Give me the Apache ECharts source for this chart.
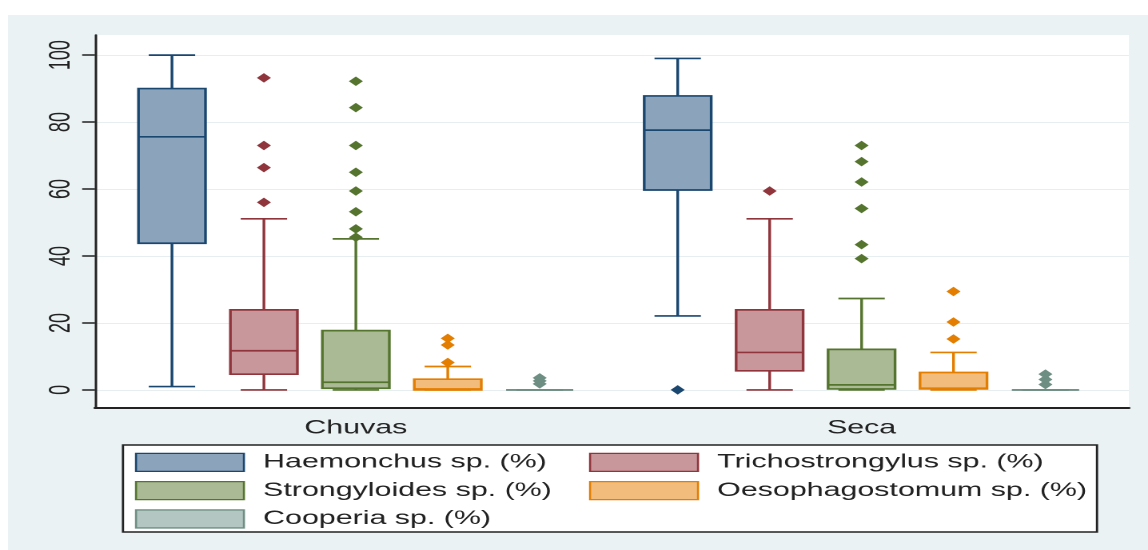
<!DOCTYPE html>
<html>
<head>
<meta charset="utf-8">
<script src="https://cdn.jsdelivr.net/npm/echarts@6/dist/echarts.min.js"></script>
<style>
  html, body { margin: 0; padding: 0; background: #fff; }
  body { width: 1148px; height: 550px; position: relative; overflow: hidden; }
  #bg { position: absolute; left: 8px; top: 15px; right: 0; bottom: 0; background: #eaf2f3; }
  /* the picture is stretched sideways, so the chart is drawn narrow and widened */
  #main { position: absolute; left: 0; top: 0; width: 718px; height: 550px; transform: scaleX(1.5989); transform-origin: 0 0; }
</style>
</head>
<body>
<div id="bg"></div>
<div id="main"></div>
<script>
var groups = ['Chuvas', 'Seca'];
var species = ['Haemonchus sp. (%)', 'Trichostrongylus sp. (%)', 'Strongyloides sp. (%)', 'Oesophagostomum sp. (%)', 'Cooperia sp. (%)'];
var yTicks = [0, 20, 40, 60, 80, 100];

// per group: [lower whisker, q1, median, q3, upper whisker]
var haemonchusBox = [[1, 43.8, 75.6, 90, 100], [22.1, 59.7, 77.6, 87.8, 99]];
var haemonchusOut = [[], [0]];
var trichoBox = [[0, 4.7, 11.7, 23.9, 51.1], [0, 5.7, 11.2, 23.9, 51.1]];
var trichoOut = [[56, 66.4, 73, 93.2], [59.4]];
var strongyBox = [[0, 0.5, 2.3, 17.7, 45.1], [0, 0.3, 1.5, 12.1, 27.3]];
var strongyOut = [[45.6, 48.1, 53.2, 59.4, 65, 73, 84.3, 92.2], [39.2, 43.4, 54.2, 62.1, 68.2, 73]];
var oesoBox = [[0, 0, 0.3, 3.2, 7], [0, 0.3, 0.5, 5.2, 11.2]];
var oesoOut = [[8.2, 13.4, 15.4], [15.2, 20.3, 29.4]];
var cooperiaBox = [[0, 0, 0, 0, 0], [0, 0, 0, 0, 0]];
var cooperiaOut = [[1.8, 2.7, 3.6], [1.6, 3.1, 4.7]];

var boxes = [haemonchusBox, trichoBox, strongyBox, oesoBox, cooperiaBox];
var outs = [haemonchusOut, trichoOut, strongyOut, oesoOut, cooperiaOut];

var edge = ['#1a476f', '#90353b', '#55752f', '#e37e00', '#6e8e84'];
var fill = ['#8ca3bc', '#c8979c', '#a9ba94', '#f2bd7c', '#b4c6c1'];
var FONT = '"Liberation Sans", Arial, sans-serif';
var SLOT = 57.5, BOX_W = 41.9, CAP_W = 29, LW = 1.7;

function boxRenderer(i) {
    return function (params, api) {
        var cat = api.value(0);
        var dx = (i - 2) * SLOT;
        function y(v) { return api.coord([cat, v])[1]; }
        var x = api.coord([cat, 0])[0] + dx;
        var lo = y(api.value(1)), q1 = y(api.value(2)), md = y(api.value(3)), q3 = y(api.value(4)), hi = y(api.value(5));
        var ln = { stroke: edge[i], lineWidth: LW };
        return {
            type: 'group',
            children: [
                { type: 'line', shape: { x1: x, y1: q3, x2: x, y2: hi }, style: ln },
                { type: 'line', shape: { x1: x - CAP_W / 2, y1: hi, x2: x + CAP_W / 2, y2: hi }, style: ln },
                { type: 'line', shape: { x1: x, y1: q1, x2: x, y2: lo }, style: ln },
                { type: 'line', shape: { x1: x - CAP_W / 2, y1: lo, x2: x + CAP_W / 2, y2: lo }, style: ln },
                { type: 'rect', shape: { x: x - BOX_W / 2, y: q3, width: BOX_W, height: q1 - q3 }, style: { fill: fill[i], stroke: edge[i], lineWidth: LW } },
                { type: 'line', shape: { x1: x - BOX_W / 2, y1: md, x2: x + BOX_W / 2, y2: md }, style: ln }
            ]
        };
    };
}

var series = [];
species.forEach(function (name, i) {
    series.push({
        name: name,
        type: 'custom',
        xAxisIndex: 1,
        yAxisIndex: 1,
        silent: true,
        z: 2,
        itemStyle: { color: fill[i], borderColor: edge[i] },
        encode: { x: 0, y: [1, 2, 3, 4, 5] },
        renderItem: boxRenderer(i),
        data: groups.map(function (g, k) { return [g].concat(boxes[i][k]); })
    });
    var pts = [];
    groups.forEach(function (g, k) {
        outs[i][k].forEach(function (v) { pts.push([g, v]); });
    });
    series.push({
        name: name,
        type: 'scatter',
        xAxisIndex: 1,
        yAxisIndex: 1,
        z: 3,
        symbol: 'diamond',
        symbolSize: [8.8, 9.5],
        symbolOffset: [(i - 2) * SLOT, 0],
        itemStyle: { color: edge[i], opacity: 1 },
        data: pts
    });
});

function legendItems(idx) {
    return idx.map(function (i) {
        return { name: species[i], itemStyle: { color: fill[i], borderColor: edge[i], borderWidth: 1.3 } };
    });
}
var legendBase = {
    orient: 'vertical',
    top: 452.7,
    padding: 0,
    itemGap: 9,
    itemWidth: 67.5,
    itemHeight: 18,
    icon: 'rect',
    selectedMode: false,
    textStyle: { fontSize: 19, fontFamily: FONT, color: '#222', lineHeight: 18, padding: [0, 0, 0, 7] }
};

var chart = echarts.init(document.getElementById('main'), null, { renderer: 'canvas', devicePixelRatio: 2 });
chart.setOption({
    animation: false,
    backgroundColor: 'transparent',
    grid: [
        { left: 59.4, right: 11.9, top: 35, bottom: 142, show: true, backgroundColor: '#fff', borderWidth: 0 },
        { left: 64.4, right: 21, top: 35, bottom: 142 }
    ],
    xAxis: [
        {
            gridIndex: 0, type: 'value', min: 0, max: 1,
            axisLine: { onZero: false, lineStyle: { color: '#222', width: 2 } },
            axisTick: { show: false }, axisLabel: { show: false }, splitLine: { show: false }
        },
        {
            gridIndex: 1, type: 'category', data: groups,
            axisLine: { show: false }, axisTick: { show: false }, splitLine: { show: false },
            axisLabel: { fontSize: 19, fontFamily: FONT, color: '#222', margin: 11 }
        }
    ],
    yAxis: [
        {
            gridIndex: 0, type: 'value', min: -5.4, max: 106,
            axisLine: { show: true, onZero: false, lineStyle: { color: '#222', width: 1.5 } },
            axisTick: { show: true, length: 8, customValues: yTicks, lineStyle: { color: '#222', width: 1.5 } },
            axisLabel: { customValues: yTicks, rotate: 90, fontSize: 18, fontFamily: FONT, color: '#222', margin: 12 },
            splitLine: { show: true, lineStyle: { color: '#e6eef0', width: 1 } }
        },
        { gridIndex: 1, type: 'value', min: -5.4, max: 106, show: false }
    ],
    legend: [
        Object.assign({}, legendBase, { left: 84.4, data: legendItems([0, 2, 4]) }),
        Object.assign({}, legendBase, { left: 368.4, data: legendItems([1, 3]) })
    ],
    graphic: [{
        type: 'rect', z: 1,
        shape: { x: 76.9, y: 445, width: 609.2, height: 87 },
        style: { fill: '#fff', stroke: '#222', lineWidth: 1.4 }
    }],
    series: series
});
</script>
</body>
</html>
